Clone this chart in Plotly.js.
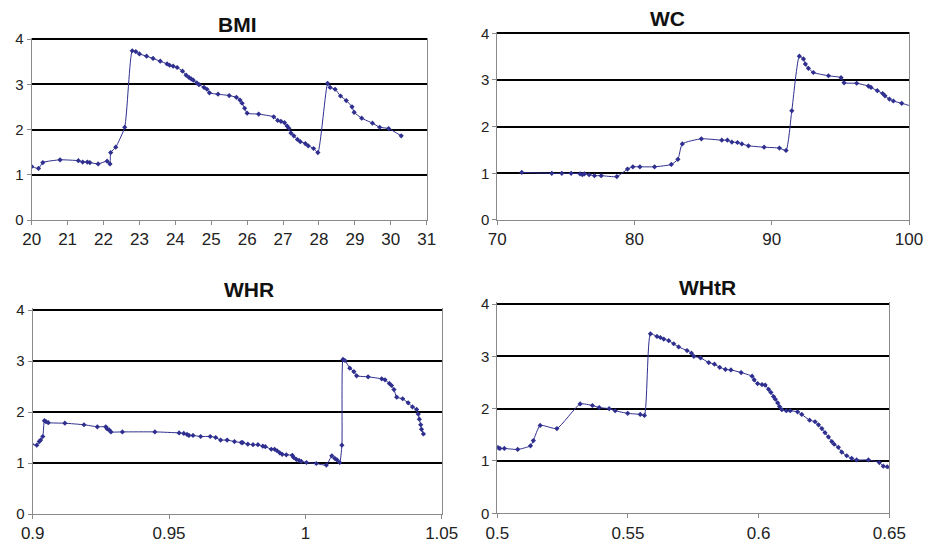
<!DOCTYPE html>
<html>
<head>
<meta charset="utf-8">
<script src="https://cdn.plot.ly/plotly-3.0.1.min.js"></script>
<style>html,body{margin:0;padding:0;background:#fff;}#chart{width:935px;height:543px;}</style>
</head>
<body>
<div id="chart"></div>
<script>
// ---- Data ----
var bmiX = [20.0,20.19,20.31,20.79,21.3,21.42,21.55,21.62,21.85,22.1,22.18,22.2,22.34,22.59,22.8,22.9,23.0,23.2,23.38,23.58,23.77,23.84,23.94,24.05,24.2,24.3,24.38,24.44,24.5,24.6,24.66,24.8,24.88,24.95,25.19,25.5,25.7,25.8,25.86,25.93,26.0,26.32,26.74,26.85,26.94,27.04,27.11,27.16,27.22,27.3,27.4,27.48,27.62,27.7,27.85,27.97,28.24,28.31,28.45,28.6,28.76,28.92,28.98,29.19,29.49,29.69,29.94,30.29];
var bmiY = [1.18,1.14,1.27,1.33,1.31,1.28,1.28,1.27,1.24,1.30,1.24,1.49,1.61,2.05,3.74,3.72,3.67,3.62,3.57,3.51,3.45,3.42,3.40,3.37,3.29,3.20,3.15,3.12,3.09,3.03,2.99,2.93,2.89,2.81,2.78,2.75,2.71,2.65,2.58,2.47,2.36,2.34,2.28,2.20,2.18,2.15,2.08,2.03,1.92,1.86,1.78,1.73,1.69,1.64,1.58,1.49,3.02,2.93,2.89,2.74,2.64,2.50,2.38,2.25,2.14,2.05,2.02,1.86];

var wcX = [71.78,73.97,74.7,75.38,76.03,76.2,76.35,76.69,77.08,77.57,78.71,79.49,79.88,80.39,81.46,82.68,83.16,83.48,84.87,86.36,86.77,87.09,87.5,87.82,88.3,89.44,90.56,91.04,91.46,92.01,92.31,92.45,92.67,93.03,94.13,95.05,95.27,96.19,97.04,97.23,97.69,98.08,98.25,98.57,98.86,99.47,100.27];
var wcY = [1.02,1.0,1.0,1.0,0.99,0.97,0.99,0.97,0.95,0.95,0.93,1.09,1.14,1.14,1.14,1.19,1.30,1.63,1.74,1.71,1.71,1.67,1.66,1.63,1.59,1.56,1.54,1.49,2.34,3.51,3.45,3.34,3.25,3.16,3.09,3.05,2.94,2.93,2.87,2.84,2.77,2.71,2.66,2.59,2.55,2.50,2.43];

var whrX = [0.8996,0.9015,0.9024,0.9029,0.9037,0.9043,0.9049,0.9057,0.9118,0.9188,0.9237,0.9268,0.9273,0.928,0.9287,0.9329,0.9448,0.9537,0.9554,0.9566,0.9573,0.9588,0.9616,0.9651,0.9671,0.9689,0.9713,0.974,0.9765,0.977,0.9789,0.9808,0.9826,0.9844,0.9853,0.9875,0.9887,0.9896,0.9906,0.9915,0.993,0.9952,0.9957,0.9967,0.9977,0.9985,1.0004,1.004,1.0077,1.0097,1.0108,1.0116,1.0126,1.0134,1.0138,1.0145,1.0163,1.0178,1.0188,1.023,1.028,1.0292,1.0308,1.0316,1.0325,1.0335,1.0357,1.0377,1.0393,1.0408,1.0414,1.0418,1.0423,1.0426,1.0433];
var whrY = [1.37,1.35,1.42,1.45,1.52,1.83,1.81,1.79,1.78,1.75,1.71,1.71,1.67,1.65,1.61,1.61,1.61,1.59,1.58,1.56,1.54,1.54,1.52,1.52,1.50,1.45,1.45,1.42,1.40,1.40,1.37,1.36,1.36,1.33,1.32,1.27,1.27,1.24,1.20,1.17,1.16,1.15,1.11,1.07,1.05,1.03,1.01,0.99,0.96,1.14,1.09,1.06,1.01,1.35,3.03,3.01,2.86,2.79,2.71,2.69,2.65,2.63,2.56,2.52,2.44,2.29,2.26,2.18,2.10,2.05,1.96,1.86,1.75,1.66,1.57];

var whtrX = [0.4997,0.5004,0.501,0.5027,0.5078,0.5127,0.5138,0.5164,0.5228,0.5317,0.5364,0.539,0.5428,0.5451,0.5499,0.5547,0.5563,0.5586,0.5611,0.5624,0.5637,0.5656,0.5675,0.5694,0.5726,0.5743,0.5752,0.5778,0.5809,0.5831,0.5851,0.5873,0.5894,0.5933,0.5975,0.5983,0.5996,0.6013,0.6025,0.6038,0.6047,0.6057,0.6064,0.6073,0.608,0.6089,0.6106,0.6121,0.6149,0.6165,0.6195,0.6216,0.6229,0.6242,0.6254,0.6267,0.628,0.6289,0.6305,0.6318,0.6337,0.6356,0.6375,0.642,0.6462,0.6477,0.6492,0.6509];
var whtrY = [1.27,1.25,1.24,1.24,1.22,1.29,1.39,1.68,1.62,2.09,2.06,2.02,2.0,1.96,1.91,1.89,1.87,3.43,3.38,3.36,3.33,3.30,3.24,3.18,3.11,3.06,3.0,2.97,2.88,2.85,2.79,2.75,2.74,2.69,2.62,2.55,2.48,2.46,2.45,2.37,2.31,2.23,2.18,2.11,2.04,1.98,1.96,1.96,1.94,1.89,1.78,1.75,1.69,1.62,1.54,1.46,1.37,1.32,1.26,1.17,1.10,1.05,1.02,1.02,0.97,0.90,0.89,0.80];

var titles = ['BMI', 'WC', 'WHR', 'WHtR'];
var yTicks = [0, 1, 2, 3, 4];
var xRanges = [[20, 31], [70, 100], [0.9, 1.05], [0.5, 0.65]];
var xDticks = [1, 10, 0.05, 0.05];

// ---- Layout geometry (pixels) ----
var W = 935, H = 543;
var panels = [
  {l: 31.7, r: 426.7, t4: 39, b0: 220, tx: 237, ty: 24},
  {l: 497.3, r: 909, t4: 33.3, b0: 220, tx: 667, ty: 18},
  {l: 32.7, r: 441.7, t4: 310, b0: 514, tx: 249, ty: 289},
  {l: 497.3, r: 889.3, t4: 304, b0: 513.3, tx: 707, ty: 287}
];
var yTop = 4.03;

var lineColor = '#2f2f8f';
var series = [[bmiX, bmiY], [wcX, wcY], [whrX, whrY], [whtrX, whtrY]];
var traces = [];
var layout = {
  width: W, height: H,
  margin: {l: 0, r: 0, t: 0, b: 0},
  paper_bgcolor: '#fff', plot_bgcolor: '#fff',
  showlegend: false,
  font: {family: 'Liberation Sans, Arial, sans-serif', color: '#222'},
  annotations: []
};

panels.forEach(function (p, i) {
  var n = i === 0 ? '' : String(i + 1);
  var scale = (p.b0 - p.t4) / 4;
  var topPx = p.t4 - (yTop - 4) * scale;
  traces.push({
    x: series[i][0], y: series[i][1],
    xaxis: 'x' + n, yaxis: 'y' + n,
    type: 'scatter', mode: 'lines+markers',
    line: {color: lineColor, width: 1, shape: 'spline', smoothing: 0.5},
    marker: {color: lineColor, size: 4, symbol: 'diamond'},
    cliponaxis: true,
    hoverinfo: 'x+y'
  });
  layout['xaxis' + n] = {
    domain: [p.l / W, p.r / W],
    anchor: 'y' + n,
    range: xRanges[i],
    dtick: xDticks[i], tick0: xRanges[i][0],
    showgrid: false, zeroline: false,
    showline: true, linecolor: '#8a8a8a', linewidth: 1,
    ticks: 'outside', ticklen: 4, tickcolor: '#8a8a8a', tickwidth: 1,
    tickfont: {size: 17, color: '#222'},
    fixedrange: true
  };
  layout['yaxis' + n] = {
    domain: [1 - p.b0 / H, 1 - topPx / H],
    anchor: 'x' + n,
    range: [0, yTop],
    tickmode: 'array', tickvals: yTicks, ticktext: yTicks.map(String),
    showgrid: true, gridcolor: '#000', gridwidth: 2,
    zeroline: false,
    showline: true, mirror: true, linecolor: '#8a8a8a', linewidth: 1,
    ticks: 'outside', ticklen: 4, tickcolor: '#8a8a8a', tickwidth: 1,
    tickfont: {size: 15, color: '#222'},
    fixedrange: true
  };
  layout.annotations.push({
    text: '<b>' + titles[i] + '</b>',
    xref: 'paper', yref: 'paper',
    x: p.tx / W, y: 1 - p.ty / H,
    xanchor: 'center', yanchor: 'middle',
    showarrow: false,
    font: {size: 21, color: '#111', family: 'Liberation Sans, Arial, sans-serif'}
  });
});

Plotly.newPlot('chart', traces, layout, {displayModeBar: false, staticPlot: true});
</script>
</body>
</html>
